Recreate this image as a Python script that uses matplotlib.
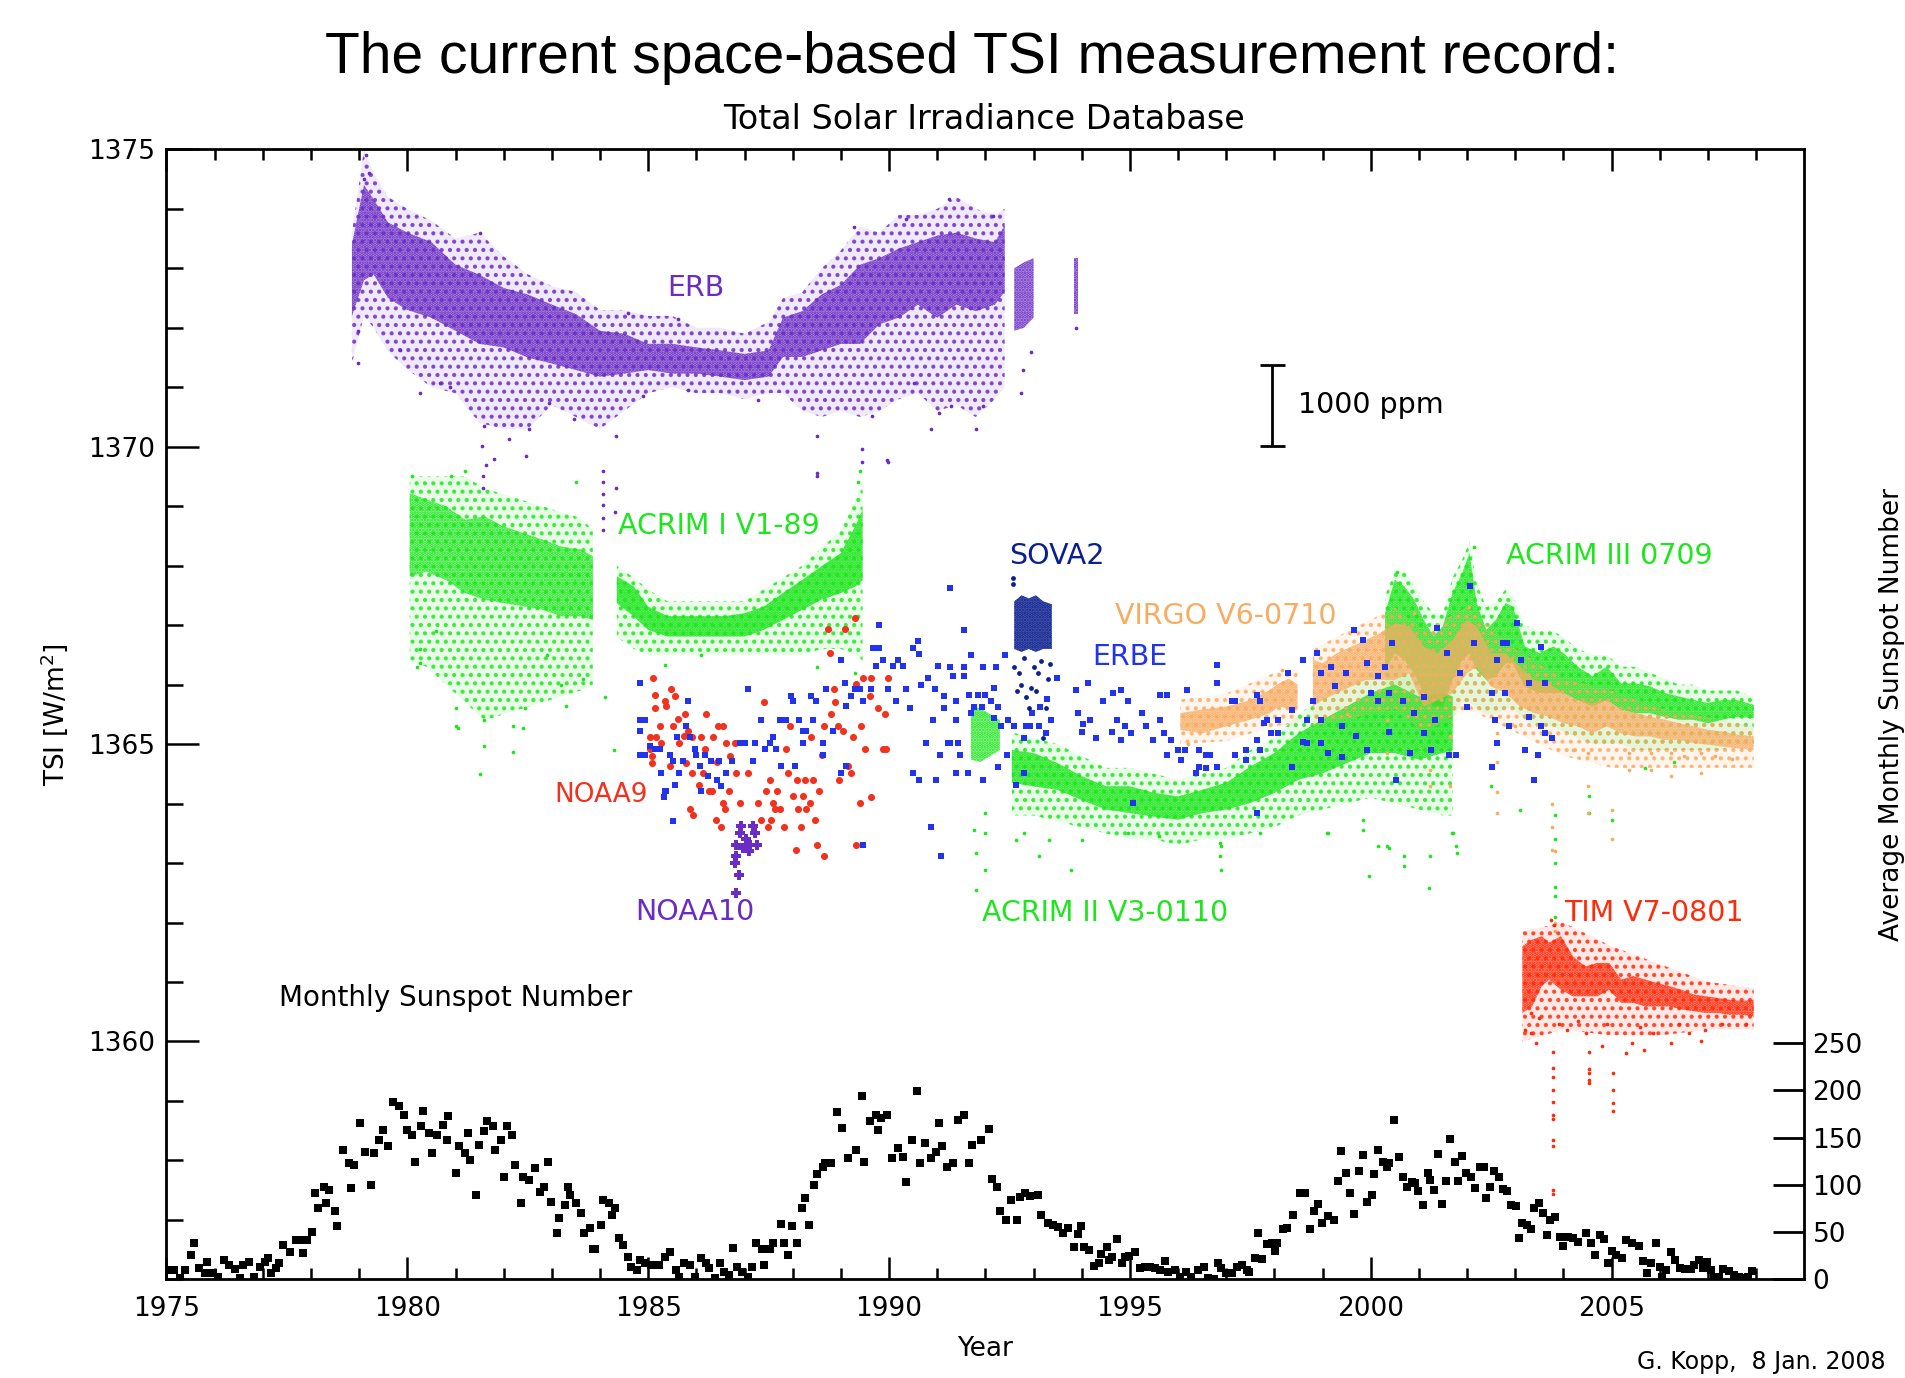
import numpy as np
import matplotlib
matplotlib.use("Agg")
import matplotlib.pyplot as plt
from matplotlib.colors import to_rgba

# ---- dense instrument records: core band (year, low, high) ----
erb_yr = [1978.85, 1979.1, 1979.3, 1979.6, 1980.0, 1980.5, 1981.0, 1981.5, 1982.0, 1982.5, 1983.0, 1983.5,
          1984.0, 1984.5, 1985.0, 1985.5, 1986.0, 1986.5, 1987.0, 1987.5, 1987.8, 1988.2, 1988.6, 1989.0,
          1989.4, 1989.8, 1990.2, 1990.6, 1991.0, 1991.4, 1991.8, 1992.2, 1992.4]
erb_lo = [1372.2, 1372.8, 1372.9, 1372.5, 1372.3, 1372.17, 1371.95, 1371.73, 1371.67, 1371.5, 1371.4, 1371.29,
          1371.18, 1371.23, 1371.29, 1371.23, 1371.23, 1371.18, 1371.12, 1371.18, 1371.51, 1371.51, 1371.62, 1371.73,
          1371.73, 1372.06, 1372.17, 1372.39, 1372.17, 1372.39, 1372.28, 1372.39, 1372.61]
erb_hi = [1373.4, 1374.4, 1374.16, 1373.77, 1373.6, 1373.44, 1373.06, 1372.89, 1372.67, 1372.56, 1372.39, 1372.23,
          1371.95, 1371.9, 1371.73, 1371.73, 1371.67, 1371.62, 1371.56, 1371.62, 1372.17, 1372.28, 1372.56, 1372.72,
          1373.06, 1373.17, 1373.33, 1373.44, 1373.55, 1373.6, 1373.5, 1373.44, 1373.72]
# outer (sparse) envelope of the ERB cloud, same years
erb_olo = [1371.4, 1372.2, 1372.0, 1371.6, 1371.3, 1371.0, 1370.9, 1370.4, 1370.3, 1370.3, 1370.7, 1370.5,
           1370.3, 1370.6, 1370.9, 1371.0, 1370.9, 1370.9, 1370.8, 1370.9, 1370.9, 1370.6, 1370.5, 1370.6,
           1370.5, 1370.6, 1370.8, 1370.9, 1370.6, 1370.7, 1370.5, 1370.8, 1371.0]
erb_ohi = [1373.6, 1375.0, 1374.6, 1374.2, 1374.0, 1373.8, 1373.5, 1373.6, 1373.2, 1372.9, 1372.7, 1372.6,
           1372.3, 1372.3, 1372.2, 1372.2, 1372.0, 1372.0, 1371.9, 1372.1, 1372.5, 1372.6, 1373.0, 1373.3,
           1373.7, 1373.6, 1373.9, 1373.9, 1374.0, 1374.2, 1374.0, 1373.9, 1374.0]
erb2_yr = [1992.6, 1992.8, 1993.0]
erb2_lo = [1371.95, 1372.0, 1372.17]
erb2_hi = [1373.0, 1373.1, 1373.17]
erb3_yr = [1993.84, 1993.92]
erb3_lo = [1372.23, 1372.23]
erb3_hi = [1373.17, 1373.17]
erb_out = [(1979.15, 1374.9), (1979.2, 1374.6), (1979.1, 1374.5), (1978.97, 1371.4), (1978.97, 1371.95),
           (1979.85, 1371.62), (1980.26, 1370.9), (1980.67, 1371.07), (1980.88, 1371.01), (1981.55, 1370.02),
           (1981.6, 1370.35), (1981.8, 1369.8), (1982.11, 1370.13), (1982.47, 1369.85), (1982.53, 1370.29),
           (1982.94, 1370.73), (1983.45, 1370.46), (1984.07, 1369.41), (1984.07, 1369.02), (1984.33, 1370.18),
           (1984.33, 1369.3), (1984.9, 1370.85), (1985.82, 1370.96), (1987.27, 1370.79), (1988.51, 1370.18),
           (1988.51, 1369.55), (1989.43, 1369.96), (1989.43, 1369.74), (1989.64, 1370.51), (1989.95, 1369.77),
           (1990.52, 1371.07), (1990.88, 1370.29), (1991.03, 1370.57), (1991.8, 1370.29), (1991.96, 1370.68),
           (1992.78, 1371.29), (1991.29, 1370.68), (1981.57, 1369.5), (1981.57, 1369.3), (1981.63, 1369.7),
           (1984.06, 1369.6), (1984.06, 1369.2), (1984.06, 1368.8), (1984.06, 1368.6), (1984.32, 1368.9),
           (1988.5, 1369.5), (1989.98, 1369.75), (1991.24, 1374.16), (1990.36, 1373.83), (1992.16, 1373.88),
           (1989.28, 1373.69), (1984.59, 1372.25), (1985.62, 1372.14), (1981.5, 1373.6), (1992.75, 1370.9),
           (1992.95, 1371.6), (1993.88, 1372.0)]

acrim1a_yr = [1980.05, 1980.4, 1980.8, 1981.2, 1981.6, 1982.0, 1982.4, 1982.8, 1983.2, 1983.6, 1983.85]
acrim1a_lo = [1367.82, 1367.9, 1367.76, 1367.54, 1367.43, 1367.37, 1367.32, 1367.26, 1367.15, 1367.15, 1367.09]
acrim1a_hi = [1369.22, 1369.11, 1369.0, 1368.77, 1368.83, 1368.66, 1368.55, 1368.44, 1368.32, 1368.27, 1368.16]
acrim1a_olo = [1366.4, 1366.3, 1366.0, 1365.7, 1365.4, 1365.5, 1365.6, 1365.7, 1365.8, 1365.9, 1366.0]
acrim1a_ohi = [1369.5, 1369.5, 1369.5, 1369.5, 1369.3, 1369.2, 1369.1, 1369.0, 1368.9, 1368.8, 1368.6]
acrim1b_yr = [1984.35, 1984.7, 1985.0, 1985.4, 1985.8, 1986.2, 1986.6, 1987.0, 1987.4, 1987.8, 1988.2, 1988.6,
              1989.0, 1989.3, 1989.45]
acrim1b_lo = [1367.37, 1367.15, 1366.92, 1366.81, 1366.81, 1366.81, 1366.81, 1366.81, 1366.92, 1367.09, 1367.26,
              1367.43, 1367.54, 1367.65, 1367.76]
acrim1b_hi = [1367.82, 1367.65, 1367.31, 1367.15, 1367.15, 1367.15, 1367.15, 1367.2, 1367.31, 1367.54, 1367.76,
              1367.99, 1368.21, 1368.66, 1368.94]
acrim1b_olo = [1366.8, 1366.6, 1366.5, 1366.5, 1366.5, 1366.5, 1366.5, 1366.5, 1366.5, 1366.5, 1366.5,
               1366.6, 1366.6, 1366.5, 1366.4]
acrim1b_ohi = [1368.0, 1367.8, 1367.6, 1367.4, 1367.4, 1367.4, 1367.4, 1367.4, 1367.6, 1367.8, 1368.0,
               1368.3, 1368.6, 1369.1, 1369.4]
acrim1_out = [(1980.26, 1366.36), (1980.26, 1366.6), (1981.0, 1365.3), (1981.0, 1365.6), (1981.6, 1364.97),
              (1981.6, 1365.4), (1982.2, 1364.86), (1982.2, 1365.3), (1982.45, 1365.6), (1983.2, 1366.0),
              (1984.1, 1365.8), (1985.35, 1366.33), (1988.5, 1366.3), (1989.3, 1366.2), (1984.3, 1364.9),
              (1981.5, 1364.49), (1980.2, 1366.3), (1981.05, 1365.27), (1982.4, 1365.27), (1983.3, 1365.64),
              (1983.65, 1366.1), (1980.1, 1369.5), (1980.9, 1369.5), (1981.2, 1369.6), (1983.5, 1369.4),
              (1989.35, 1369.4), (1989.4, 1369.6), (1980.6, 1366.9), (1982.9, 1366.5), (1986.1, 1366.5)]

acrim2a_yr = [1991.7, 1991.9, 1992.1, 1992.3]
acrim2a_lo = [1364.74, 1364.7, 1364.8, 1364.9]
acrim2a_hi = [1365.63, 1365.6, 1365.5, 1365.4]
acrim2b_yr = [1992.55, 1993.0, 1993.5, 1994.0, 1994.5, 1995.0, 1995.5, 1996.0, 1996.5, 1997.0, 1997.5, 1998.0,
              1998.5, 1999.0, 1999.5, 2000.0, 2000.5, 2001.0, 2001.5, 2001.7]
acrim2b_lo = [1364.35, 1364.29, 1364.23, 1364.06, 1363.9, 1363.84, 1363.78, 1363.73, 1363.84, 1363.9, 1364.01,
              1364.18, 1364.4, 1364.51, 1364.68, 1364.85, 1364.85, 1364.74, 1364.85, 1364.9]
acrim2b_hi = [1364.9, 1364.85, 1364.68, 1364.46, 1364.29, 1364.29, 1364.18, 1364.12, 1364.23, 1364.35, 1364.62,
              1364.85, 1365.18, 1365.41, 1365.63, 1365.86, 1366.0, 1365.8, 1365.86, 1365.8]
acrim2b_olo = [1363.8, 1363.8, 1363.7, 1363.6, 1363.5, 1363.4, 1363.4, 1363.3, 1363.4, 1363.4, 1363.5,
               1363.6, 1363.8, 1363.9, 1364.0, 1364.1, 1364.0, 1363.9, 1363.8, 1363.8]
acrim2b_ohi = [1365.2, 1365.1, 1365.0, 1364.8, 1364.6, 1364.6, 1364.5, 1364.4, 1364.5, 1364.6, 1364.9,
               1365.1, 1365.5, 1365.8, 1366.0, 1366.2, 1366.3, 1366.1, 1366.1, 1366.0]
acrim3_yr = [2000.3, 2000.5, 2000.7, 2000.9, 2001.1, 2001.3, 2001.5, 2001.7, 2001.9, 2002.05, 2002.2, 2002.4,
             2002.6, 2002.8, 2002.95, 2003.2, 2003.5, 2003.8, 2004.0, 2004.3, 2004.6, 2004.9, 2005.2, 2005.5,
             2005.8, 2006.1, 2006.4, 2006.7, 2007.0, 2007.3, 2007.6, 2007.95]
acrim3_lo = [1366.25, 1366.53, 1366.42, 1366.19, 1365.86, 1365.63, 1365.63, 1366.08, 1366.42, 1366.53, 1366.25,
             1366.08, 1366.14, 1366.36, 1366.36, 1365.97, 1365.86, 1365.86, 1365.86, 1365.74, 1365.63, 1365.74,
             1365.58, 1365.52, 1365.52, 1365.46, 1365.41, 1365.41, 1365.35, 1365.41, 1365.46, 1365.44]
acrim3_hi = [1367.2, 1367.76, 1367.65, 1367.43, 1367.09, 1366.81, 1366.98, 1367.54, 1367.87, 1368.21, 1367.37,
             1366.92, 1367.09, 1367.37, 1367.31, 1366.64, 1366.53, 1366.64, 1366.53, 1366.3, 1366.14, 1366.3,
             1366.02, 1366.02, 1365.97, 1365.86, 1365.8, 1365.74, 1365.69, 1365.74, 1365.74, 1365.66]
acrim3_olo = [1365.5, 1365.7, 1365.5, 1365.3, 1365.2, 1365.0, 1365.0, 1365.4, 1365.7, 1365.7, 1365.6,
              1365.5, 1365.5, 1365.6, 1365.6, 1365.4, 1365.3, 1365.3, 1365.2, 1365.1, 1365.0, 1365.0,
              1365.0, 1364.9, 1364.9, 1364.9, 1364.9, 1364.9, 1364.9, 1364.9, 1365.0, 1365.0]
acrim3_ohi = [1367.5, 1367.9, 1367.9, 1367.7, 1367.4, 1367.2, 1367.2, 1367.8, 1368.1, 1368.4, 1367.7,
              1367.3, 1367.4, 1367.6, 1367.5, 1367.0, 1366.9, 1366.9, 1366.8, 1366.6, 1366.5, 1366.5,
              1366.3, 1366.3, 1366.2, 1366.1, 1366.0, 1366.0, 1365.9, 1365.9, 1365.9, 1365.8]
acrim23_out = [(1991.81, 1363.17), (1991.81, 1362.55), (1992.0, 1362.89), (1992.0, 1363.84), (1991.77, 1363.56),
               (1992.63, 1363.39), (1992.81, 1363.5), (1993.11, 1363.11), (1993.33, 1363.39), (1993.77, 1362.89),
               (1994.0, 1363.39), (1994.96, 1363.5), (1996.89, 1362.89), (1996.89, 1363.28), (1997.7, 1363.5),
               (1999.11, 1363.5), (1999.85, 1363.56), (1999.96, 1362.78), (2000.33, 1363.28), (2000.7, 1362.95),
               (2001.22, 1362.58), (2001.78, 1363.28), (2001.7, 1363.5), (1996.88, 1363.34), (1996.88, 1363.11),
               (1999.1, 1363.5), (1999.83, 1363.73), (2000.16, 1363.28), (2000.37, 1363.25), (2000.7, 1363.11),
               (2001.23, 1363.11), (2001.68, 1363.5), (2001.8, 1363.17), (2004.53, 1364.12), (2004.53, 1363.84),
               (2005.0, 1363.73), (2003.82, 1362.6), (2003.82, 1362.45), (2003.82, 1362.1), (2003.82, 1363.0),
               (2003.82, 1363.4), (2003.82, 1363.8), (2003.1, 1363.9), (2002.5, 1364.3), (2005.7, 1364.6),
               (2006.3, 1364.7), (2002.15, 1368.32), (2000.55, 1367.9), (1992.0, 1363.5), (1995.6, 1363.45)]

virgo_a_yr = [1996.05, 1996.5, 1997.0, 1997.5, 1997.9, 1998.1, 1998.3, 1998.48]
virgo_a_lo = [1365.24, 1365.18, 1365.3, 1365.41, 1365.52, 1365.63, 1365.6, 1365.6]
virgo_a_hi = [1365.52, 1365.58, 1365.63, 1365.74, 1365.91, 1366.02, 1366.1, 1366.0]
virgo_ah_yr = [1996.05, 1997.0, 1998.0, 1998.48]
virgo_ah_lo = [1365.0, 1365.05, 1365.3, 1365.35]
virgo_ah_hi = [1365.75, 1365.85, 1366.2, 1366.25]
virgo_b_yr = [1998.8, 1999.0, 1999.3, 1999.6, 1999.9, 2000.2, 2000.5, 2000.8, 2001.1, 2001.4, 2001.7, 2002.0,
              2002.2, 2002.5, 2002.8, 2003.1, 2003.4, 2003.7, 2004.0, 2004.3, 2004.6, 2004.9, 2005.2, 2005.5,
              2005.8, 2006.1, 2006.4, 2006.7, 2007.0, 2007.3, 2007.6, 2007.95]
virgo_b_lo = [1365.63, 1365.74, 1365.86, 1365.97, 1366.08, 1366.08, 1366.08, 1366.19, 1365.63, 1365.74, 1365.86,
              1366.19, 1366.3, 1365.97, 1365.86, 1365.63, 1365.52, 1365.46, 1365.35, 1365.3, 1365.18, 1365.3,
              1365.18, 1365.13, 1365.13, 1365.07, 1365.07, 1365.02, 1364.99, 1364.96, 1364.93, 1364.9]
virgo_b_hi = [1366.42, 1366.36, 1366.53, 1366.64, 1366.75, 1366.87, 1367.03, 1366.98, 1366.64, 1366.53, 1366.75,
              1367.09, 1366.98, 1366.53, 1366.53, 1366.3, 1366.08, 1366.02, 1365.86, 1365.74, 1365.69, 1365.74,
              1365.58, 1365.52, 1365.46, 1365.41, 1365.35, 1365.3, 1365.24, 1365.21, 1365.16, 1365.13]
virgo_bh_yr = [1998.8, 2000.5, 2001.1, 2002.0, 2003.0, 2004.0, 2005.0, 2006.0, 2007.95]
virgo_bh_lo = [1365.3, 1365.6, 1365.2, 1365.6, 1365.2, 1364.8, 1364.6, 1364.6, 1364.6]
virgo_bh_hi = [1366.6, 1367.3, 1366.9, 1367.3, 1366.6, 1366.1, 1365.9, 1365.6, 1365.3]
virgo_out = [(2002.62, 1365.18), (2002.62, 1364.7), (2002.62, 1364.2), (2002.62, 1363.84), (2003.77, 1364.0),
             (2003.77, 1363.6), (2003.77, 1363.22), (2004.51, 1364.85), (2004.51, 1364.3), (2004.51, 1363.84),
             (2005.0, 1363.9), (2005.0, 1363.4), (2005.82, 1364.85), (2005.82, 1364.57), (2006.23, 1364.85),
             (2006.23, 1364.46), (2006.85, 1364.85), (2006.85, 1364.51), (2007.14, 1364.8), (2007.5, 1364.75),
             (2005.37, 1364.85), (2005.37, 1364.57), (2000.33, 1365.4), (2000.33, 1364.85), (2001.23, 1364.57),
             (2001.23, 1364.29), (2001.64, 1365.13), (2001.64, 1364.29), (2003.82, 1362.0), (2003.82, 1361.85),
             (2003.82, 1363.2), (2001.1, 1365.2), (1998.15, 1366.25), (1996.2, 1365.0), (1999.5, 1365.5),
             (2000.9, 1367.2), (2002.05, 1367.3), (2003.0, 1365.3), (2004.2, 1364.9), (2006.5, 1364.8)]

tim_yr = [2003.15, 2003.35, 2003.55, 2003.7, 2003.95, 2004.2, 2004.45, 2004.7, 2004.95, 2005.2, 2005.45, 2005.7,
          2005.95, 2006.2, 2006.45, 2006.7, 2006.95, 2007.2, 2007.45, 2007.7, 2007.95]
tim_lo = [1360.48, 1360.59, 1360.93, 1361.04, 1360.87, 1360.76, 1360.76, 1360.76, 1360.87, 1360.65, 1360.65,
          1360.59, 1360.59, 1360.59, 1360.54, 1360.51, 1360.48, 1360.48, 1360.45, 1360.45, 1360.42]
tim_hi = [1361.6, 1361.71, 1361.77, 1361.66, 1361.77, 1361.43, 1361.26, 1361.32, 1361.32, 1361.04, 1361.1,
          1361.04, 1360.98, 1360.93, 1360.87, 1360.79, 1360.76, 1360.73, 1360.7, 1360.68, 1360.7]
tim_h_yr = [2003.15, 2004.0, 2005.0, 2006.0, 2007.0, 2007.95]
tim_h_lo = [1360.0, 1360.2, 1360.1, 1360.1, 1360.2, 1360.2]
tim_h_hi = [1361.85, 1362.0, 1361.6, 1361.3, 1361.0, 1360.9]
tim_out = [(2003.79, 1359.83), (2003.79, 1359.55), (2003.79, 1359.41), (2003.79, 1359.19), (2003.79, 1358.99),
           (2003.79, 1358.77), (2003.79, 1358.69), (2003.79, 1358.35), (2003.79, 1358.24), (2003.79, 1357.51),
           (2003.79, 1357.43), (2004.53, 1359.83), (2004.53, 1359.53), (2004.53, 1359.47), (2004.53, 1359.36),
           (2004.53, 1359.3), (2005.03, 1359.47), (2005.03, 1359.19), (2005.03, 1358.97), (2005.03, 1358.83),
           (2003.32, 1360.14), (2003.43, 1359.97), (2003.32, 1360.48), (2004.08, 1360.2), (2004.46, 1360.14),
           (2004.81, 1359.92), (2005.29, 1359.81), (2005.43, 1359.97), (2005.67, 1359.86), (2005.86, 1360.14),
           (2006.23, 1359.97), (2006.61, 1360.14), (2006.85, 1360.0), (2006.95, 1360.2), (2003.8, 1361.95),
           (2003.2, 1360.2), (2003.5, 1360.4), (2003.9, 1360.3), (2004.3, 1360.35), (2004.9, 1360.3),
           (2005.6, 1360.25), (2006.4, 1360.3), (2007.3, 1360.3), (2007.8, 1360.3), (2003.75, 1362.05)]

sova2_yr = [1992.6, 1992.75, 1992.9, 1993.05, 1993.2, 1993.38]
sova2_lo = [1366.6, 1366.55, 1366.6, 1366.55, 1366.6, 1366.6]
sova2_hi = [1367.4, 1367.5, 1367.45, 1367.5, 1367.4, 1367.35]
sova2_out = [(1992.6, 1366.3), (1992.65, 1365.9), (1992.75, 1366.0), (1992.85, 1365.8), (1992.9, 1365.6),
             (1993.05, 1365.9), (1993.1, 1366.2), (1993.25, 1365.6), (1993.3, 1366.1), (1992.58, 1367.8),
             (1992.58, 1367.7), (1992.7, 1366.2), (1993.0, 1366.3), (1993.35, 1366.35), (1992.8, 1366.45),
             (1993.15, 1366.4), (1992.95, 1365.95), (1993.2, 1365.1)]

# ---- sparse records: individual points ----
noaa9 = [(1985.10, 1366.11), (1985.48, 1365.92), (1985.55, 1365.81), (1985.14, 1365.82), (1985.34, 1365.72),
         (1985.38, 1365.64), (1985.14, 1365.61), (1985.62, 1365.42), (1985.76, 1365.51), (1986.21, 1365.51),
         (1985.25, 1365.31), (1985.52, 1365.31), (1985.83, 1365.22), (1985.74, 1365.13), (1985.03, 1365.12),
         (1985.17, 1365.12), (1985.27, 1365.01), (1985.65, 1365.01), (1985.90, 1365.12), (1986.10, 1365.12),
         (1986.35, 1365.12), (1986.45, 1365.31), (1986.55, 1365.31), (1985.03, 1364.91), (1985.07, 1364.80),
         (1985.07, 1364.68), (1985.45, 1364.63), (1985.79, 1364.68), (1986.17, 1364.91), (1986.62, 1365.01),
         (1986.80, 1365.01), (1986.42, 1364.70), (1986.69, 1364.80), (1986.83, 1364.52), (1987.07, 1364.52),
         (1985.90, 1364.52), (1986.14, 1364.52), (1986.06, 1364.32), (1986.26, 1364.21), (1986.33, 1364.21),
         (1986.67, 1364.21), (1986.55, 1364.01), (1986.90, 1364.01), (1986.59, 1363.91), (1985.86, 1363.91),
         (1985.94, 1363.81), (1986.40, 1363.72), (1986.52, 1363.60), (1987.28, 1364.01), (1987.40, 1365.71),
         (1987.52, 1364.40), (1987.44, 1364.21), (1987.67, 1364.21), (1987.59, 1364.01), (1987.73, 1363.91),
         (1987.63, 1363.91), (1987.90, 1364.52), (1987.87, 1364.91), (1988.09, 1364.40), (1988.25, 1364.40),
         (1988.43, 1364.40), (1988.01, 1364.12), (1988.21, 1364.12), (1988.35, 1364.01), (1988.11, 1363.91),
         (1988.28, 1363.91), (1988.55, 1364.21), (1988.46, 1363.72), (1988.18, 1363.60), (1987.82, 1363.60),
         (1987.56, 1363.72), (1987.35, 1363.72), (1987.49, 1363.60), (1988.06, 1363.22), (1988.50, 1363.30),
         (1988.66, 1363.12), (1987.94, 1365.31), (1988.39, 1365.12), (1988.61, 1364.81), (1988.64, 1365.31),
         (1988.85, 1365.92), (1988.87, 1365.71), (1988.80, 1365.51), (1988.94, 1365.31), (1989.04, 1365.22),
         (1989.25, 1365.12), (1989.42, 1365.31), (1989.51, 1364.91), (1989.87, 1364.91), (1989.94, 1364.91),
         (1989.15, 1364.63), (1989.22, 1364.52), (1988.97, 1364.40), (1989.39, 1364.01), (1989.62, 1364.11),
         (1989.31, 1363.30), (1988.77, 1366.53), (1988.73, 1366.93), (1989.08, 1366.93), (1989.29, 1367.12),
         (1989.46, 1366.11), (1989.63, 1366.11), (1989.98, 1366.11), (1989.60, 1365.81), (1989.77, 1365.61),
         (1989.91, 1365.51), (1989.32, 1366.01)]

noaa10 = [(1986.93, 1363.62), (1987.18, 1363.62), (1986.90, 1363.51), (1987.21, 1363.51), (1987.04, 1363.41),
          (1986.83, 1363.31), (1987.11, 1363.31), (1987.26, 1363.30), (1986.97, 1363.26), (1987.09, 1363.20),
          (1986.82, 1363.11), (1986.80, 1363.00), (1986.88, 1362.80), (1986.82, 1362.50)]

erbe = [(1984.82, 1366.03), (1984.82, 1365.41), (1984.93, 1365.41), (1984.82, 1365.22), (1984.82, 1364.81),
        (1984.93, 1364.81), (1985.03, 1364.96), (1985.14, 1364.91), (1985.24, 1364.91), (1985.27, 1364.52),
        (1985.34, 1364.21), (1985.38, 1364.21), (1985.32, 1364.11), (1985.45, 1364.81), (1985.52, 1364.71),
        (1985.55, 1364.32), (1985.52, 1363.70), (1985.59, 1365.12), (1985.65, 1364.52), (1985.72, 1364.71),
        (1985.79, 1365.31), (1985.83, 1365.72), (1985.86, 1365.12), (1985.97, 1364.91), (1986.00, 1364.81),
        (1986.07, 1364.63), (1986.10, 1364.21), (1986.17, 1364.81), (1986.24, 1364.46), (1986.31, 1364.71),
        (1986.42, 1364.40), (1986.48, 1364.71), (1986.52, 1364.29), (1986.62, 1364.52), (1986.73, 1364.71),
        (1986.90, 1365.01), (1987.00, 1365.01), (1987.07, 1365.92), (1987.18, 1364.71), (1987.21, 1365.01),
        (1987.35, 1365.41), (1987.42, 1364.91), (1987.52, 1365.01), (1987.66, 1364.91), (1987.59, 1365.12),
        (1987.73, 1365.41), (1987.76, 1364.63), (1987.87, 1365.41), (1987.97, 1365.81), (1988.01, 1365.72),
        (1988.04, 1364.63), (1988.14, 1365.41), (1988.21, 1365.22), (1988.28, 1365.22), (1988.21, 1365.01),
        (1988.42, 1365.41), (1988.39, 1365.81), (1988.49, 1365.72), (1988.63, 1365.01), (1988.63, 1364.81),
        (1988.70, 1365.92), (1988.84, 1365.22), (1989.01, 1366.42), (1989.08, 1366.03), (1989.11, 1365.64),
        (1989.22, 1365.81), (1989.29, 1365.92), (1989.39, 1365.92), (1989.46, 1365.72), (1989.63, 1365.92),
        (1989.67, 1366.62), (1989.73, 1366.31), (1989.80, 1366.62), (1989.87, 1366.42), (1989.98, 1365.92),
        (1990.08, 1366.31), (1990.15, 1365.72), (1990.18, 1366.42), (1990.29, 1366.31), (1990.36, 1365.92),
        (1990.43, 1365.61), (1990.50, 1366.62), (1990.60, 1366.73), (1990.63, 1366.51), (1990.67, 1366.00),
        (1990.81, 1366.11), (1990.91, 1365.41), (1991.01, 1366.31), (1990.95, 1365.92), (1991.15, 1365.61),
        (1991.15, 1365.81), (1990.50, 1364.52), (1990.63, 1364.40), (1990.77, 1365.01), (1990.98, 1364.40),
        (1991.05, 1364.81), (1991.22, 1365.01), (1990.88, 1363.60), (1991.08, 1363.12), (1989.80, 1367.01),
        (1989.46, 1363.30), (1989.01, 1364.52), (1989.11, 1364.63),
        (1991.26, 1367.62), (1991.55, 1366.92), (1991.26, 1366.30), (1991.55, 1366.30), (1991.70, 1366.50),
        (1991.96, 1366.30), (1992.22, 1366.30), (1992.40, 1366.50), (1991.33, 1366.14), (1991.55, 1366.14),
        (1991.66, 1365.83), (1991.85, 1365.83), (1992.00, 1365.83), (1992.18, 1365.94), (1991.40, 1365.72),
        (1991.77, 1365.63), (1991.92, 1365.63), (1992.11, 1365.72), (1992.26, 1365.63), (1991.40, 1365.41),
        (1991.70, 1365.52), (1992.18, 1365.44), (1992.33, 1365.30), (1992.48, 1365.41), (1991.26, 1365.02),
        (1991.44, 1365.02), (1991.48, 1364.82), (1991.40, 1364.51), (1991.63, 1364.51), (1991.96, 1364.40),
        (1992.26, 1364.62), (1992.44, 1364.82), (1992.59, 1365.30), (1992.85, 1365.30), (1992.92, 1365.30),
        (1993.11, 1365.30), (1993.26, 1365.18), (1993.37, 1365.41), (1993.48, 1366.11), (1993.29, 1365.75),
        (1993.14, 1365.63), (1992.96, 1365.52), (1992.81, 1365.10), (1993.89, 1365.91), (1994.14, 1366.02),
        (1993.92, 1365.52), (1994.03, 1365.33), (1994.18, 1365.41), (1994.00, 1365.21), (1994.29, 1365.10),
        (1994.44, 1365.72), (1994.66, 1365.86), (1994.81, 1365.91), (1994.96, 1365.72), (1994.74, 1365.41),
        (1994.89, 1365.30), (1994.63, 1365.21), (1994.81, 1365.07), (1995.03, 1365.18), (1995.26, 1365.52),
        (1995.33, 1365.30), (1995.63, 1365.83), (1995.78, 1365.83), (1995.63, 1365.41), (1995.70, 1365.18),
        (1995.85, 1365.07), (1995.48, 1365.07), (1996.00, 1364.90), (1996.14, 1364.90), (1995.78, 1364.82),
        (1996.07, 1364.74), (1996.44, 1364.90), (1996.59, 1364.82), (1996.44, 1364.62), (1996.37, 1364.51),
        (1996.59, 1364.60), (1996.81, 1364.62), (1996.66, 1364.82), (1996.18, 1365.91), (1996.81, 1366.33),
        (1996.81, 1366.02), (1997.11, 1365.72), (1997.18, 1365.72), (1997.63, 1365.83), (1997.70, 1365.72),
        (1997.78, 1365.35), (1997.92, 1365.18), (1997.63, 1365.07), (1997.41, 1364.90), (1997.18, 1364.82),
        (1997.41, 1364.74), (1997.70, 1364.90), (1997.85, 1365.41), (1998.07, 1365.41), (1998.07, 1365.18),
        (1998.29, 1366.19), (1998.37, 1365.58), (1998.59, 1366.42), (1998.81, 1365.72), (1998.89, 1366.53),
        (1998.96, 1366.19), (1999.18, 1366.30), (1999.26, 1365.97), (1999.48, 1366.19), (1999.66, 1366.92),
        (1999.85, 1366.75), (1999.92, 1366.36), (2000.15, 1366.14), (2000.29, 1366.30), (2000.44, 1366.70),
        (2000.00, 1365.86), (2000.15, 1365.72), (2000.37, 1365.86), (2000.67, 1365.72), (2000.89, 1365.52),
        (2001.11, 1365.80), (2001.37, 1366.95), (2001.33, 1365.41), (2001.59, 1366.53), (2001.63, 1364.82),
        (2001.78, 1364.82), (2002.07, 1367.65), (2001.85, 1366.19), (2002.00, 1365.63), (2002.15, 1366.70),
        (2002.52, 1365.86), (2002.59, 1365.41), (2002.74, 1366.70), (2002.52, 1364.62), (1998.59, 1365.04),
        (1998.67, 1365.02), (1998.96, 1365.02), (1998.37, 1364.62), (1998.67, 1365.41), (1998.96, 1365.41),
        (1999.41, 1365.30), (1999.11, 1364.85), (1999.70, 1365.13), (2000.37, 1365.21), (2001.11, 1365.18),
        (1999.41, 1364.79), (1999.92, 1364.90), (2000.52, 1364.40), (2001.26, 1364.90), (2000.81, 1364.85),
        (1992.81, 1364.51), (1992.63, 1364.32), (1995.07, 1364.01), (1997.63, 1363.84),
        (2002.62, 1366.42), (2002.83, 1366.70), (2003.03, 1367.03), (2003.12, 1366.42), (2003.28, 1366.02),
        (2003.53, 1366.64), (2003.61, 1366.02), (2002.87, 1365.30), (2002.62, 1365.02), (2003.20, 1364.90),
        (2003.48, 1364.82), (2003.61, 1365.18), (2003.77, 1365.10), (2002.79, 1365.86), (2003.28, 1365.46),
        (2003.53, 1365.30), (2003.40, 1364.40)]

sunspots = [(1975.04, 10.0), (1975.15, 10.0), (1975.27, 1.1), (1975.38, 10.0), (1975.50, 25.8), (1975.58, 38.2),
            (1975.67, 11.7), (1975.79, 6.4), (1975.84, 18.8), (1975.96, 6.4), (1976.07, 2.9), (1976.19, 20.6),
            (1976.30, 15.3), (1976.42, 10.7), (1976.53, 1.1), (1976.59, 15.3), (1976.71, 18.8), (1976.82, 2.9),
            (1976.94, 13.5), (1977.05, 18.8), (1977.11, 22.3), (1977.17, 6.4), (1977.28, 11.7), (1977.34, 17.0),
            (1977.42, 36.4), (1977.57, 29.4), (1977.69, 41.7), (1977.80, 41.7), (1977.84, 27.6), (1977.92, 41.7),
            (1978.03, 50.6), (1978.09, 91.2), (1978.15, 75.3), (1978.26, 98.2), (1978.32, 80.6), (1978.38, 94.7),
            (1978.49, 71.8), (1978.55, 56.6), (1978.66, 137.1), (1978.78, 123.0), (1978.89, 121.2), (1978.84, 96.5),
            (1979.01, 165.3), (1979.12, 135.3), (1979.24, 100.0), (1979.30, 133.5), (1979.41, 147.7), (1979.49, 158.3),
            (1979.59, 140.6), (1979.70, 187.6), (1979.82, 183.0), (1979.93, 174.2), (1979.99, 158.3), (1980.10, 153.0),
            (1980.16, 124.7), (1980.28, 161.8), (1980.33, 177.7), (1980.45, 154.7), (1980.51, 134.2), (1980.62, 153.0),
            (1980.74, 163.6), (1980.85, 172.4), (1980.83, 147.7), (1981.02, 112.4), (1981.08, 140.6), (1981.20, 133.5),
            (1981.25, 154.7), (1981.31, 126.5), (1981.43, 89.4), (1981.48, 142.4), (1981.60, 156.5), (1981.66, 167.1),
            (1981.77, 161.8), (1981.83, 137.1), (1981.95, 147.7), (1982.06, 161.8), (1982.18, 153.0), (1982.00, 108.8),
            (1982.23, 121.2), (1982.35, 80.6), (1982.41, 108.8), (1982.52, 105.3), (1982.64, 117.7), (1982.75, 92.9),
            (1982.83, 98.2), (1982.92, 124.7), (1982.98, 82.3), (1983.10, 48.8), (1983.15, 64.7), (1983.27, 78.8),
            (1983.33, 98.2), (1983.38, 89.4), (1983.50, 80.6), (1983.61, 70.0), (1983.67, 48.8), (1983.79, 54.1),
            (1983.85, 31.8), (1983.90, 31.8), (1984.02, 57.6), (1984.07, 84.1), (1984.19, 80.6), (1984.25, 68.2),
            (1984.31, 75.3), (1984.40, 44.2), (1984.48, 36.4), (1984.59, 24.1), (1984.65, 13.5), (1984.77, 10.0),
            (1984.82, 20.6), (1984.94, 17.0), (1985.05, 15.3), (1985.23, 15.3), (1985.34, 24.1), (1985.46, 29.4),
            (1985.57, 10.0), (1985.63, 2.9), (1985.75, 17.0), (1985.86, 15.3), (1985.98, 2.9), (1986.09, 22.3),
            (1986.21, 17.0), (1986.26, 11.7), (1986.38, 1.1), (1986.49, 17.0), (1986.58, 8.2), (1986.67, 4.7),
            (1986.76, 33.6), (1986.84, 13.5), (1986.95, 8.2), (1987.07, 2.2), (1987.16, 13.5), (1987.24, 38.2),
            (1987.36, 31.8), (1987.41, 15.3), (1987.53, 31.8), (1987.59, 38.2), (1987.76, 58.3), (1987.82, 38.2),
            (1987.91, 25.8), (1987.99, 56.6), (1988.08, 38.2), (1988.20, 75.3), (1988.26, 85.9), (1988.34, 57.6),
            (1988.45, 100.0), (1988.51, 111.7), (1988.62, 119.4), (1988.68, 123.0), (1988.80, 123.0), (1988.91, 177.0),
            (1989.03, 160.0), (1989.14, 128.2), (1989.31, 137.1), (1989.43, 194.3), (1989.49, 124.7), (1989.60, 167.1),
            (1989.72, 174.2), (1989.77, 158.3), (1989.83, 170.6), (1989.95, 174.2), (1990.06, 128.2), (1990.18, 138.8),
            (1990.29, 130.0), (1990.35, 103.5), (1990.47, 147.7), (1990.58, 198.9), (1990.64, 123.0), (1990.75, 144.1),
            (1990.87, 128.2), (1990.98, 135.3), (1991.04, 165.3), (1991.10, 140.6), (1991.21, 119.4), (1991.33, 123.0),
            (1991.44, 168.9), (1991.56, 174.2), (1991.67, 123.0), (1991.73, 142.4), (1991.90, 147.7), (1992.08, 159.0),
            (1992.13, 106.0), (1992.25, 98.2), (1992.31, 71.8), (1992.42, 62.9), (1992.54, 84.1), (1992.65, 62.9),
            (1992.71, 87.6), (1992.83, 91.2), (1992.93, 88.4), (1993.09, 89.4), (1993.16, 68.2), (1993.30, 60.1),
            (1993.40, 57.6), (1993.51, 55.9), (1993.62, 48.8), (1993.72, 54.8), (1993.83, 34.0), (1993.93, 47.7),
            (1993.99, 56.6), (1994.04, 34.7), (1994.15, 31.1), (1994.25, 14.2), (1994.36, 17.0), (1994.41, 26.6),
            (1994.52, 34.7), (1994.57, 20.6), (1994.62, 24.1), (1994.73, 42.4), (1994.83, 17.0), (1994.89, 24.1),
            (1994.99, 24.8), (1995.10, 29.4), (1995.20, 12.4), (1995.31, 12.8), (1995.42, 13.5), (1995.52, 12.4),
            (1995.63, 10.0), (1995.73, 19.5), (1995.79, 8.2), (1995.94, 10.0), (1996.05, 2.2), (1996.16, 8.2),
            (1996.26, 2.2), (1996.42, 10.0), (1996.53, 12.8), (1996.63, 1.1), (1996.74, 0.4), (1996.82, 17.0),
            (1996.90, 11.7), (1997.00, 6.4), (1997.11, 6.4), (1997.22, 12.8), (1997.32, 15.3), (1997.43, 10.0),
            (1997.48, 8.2), (1997.59, 22.3), (1997.66, 49.5), (1997.74, 21.3), (1997.85, 37.5), (1997.96, 38.2),
            (1998.01, 30.1), (1998.06, 38.9), (1998.17, 53.4), (1998.27, 54.1), (1998.38, 68.2), (1998.54, 91.2),
            (1998.64, 91.2), (1998.75, 53.7), (1998.82, 72.5), (1998.91, 79.9), (1998.99, 60.1), (1999.12, 67.2),
            (1999.23, 62.9), (1999.33, 104.6), (1999.38, 136.0), (1999.49, 112.4), (1999.58, 91.9), (1999.65, 69.3),
            (1999.76, 114.8), (1999.83, 131.1), (1999.92, 82.3), (2000.02, 89.4), (2000.07, 111.7), (2000.15, 137.1),
            (2000.25, 123.7), (2000.34, 118.7), (2000.39, 123.0), (2000.48, 168.2), (2000.58, 129.0), (2000.66, 108.1),
            (2000.76, 98.2), (2000.85, 103.5), (2000.92, 101.8), (2000.99, 93.6), (2001.08, 78.8), (2001.18, 112.4),
            (2001.24, 105.3), (2001.31, 94.7), (2001.40, 132.5), (2001.48, 79.9), (2001.57, 104.6), (2001.65, 148.7),
            (2001.74, 123.7), (2001.82, 104.6), (2001.90, 130.7), (2001.98, 112.4), (2002.08, 108.8), (2002.16, 96.5),
            (2002.26, 118.4), (2002.35, 118.4), (2002.40, 86.6), (2002.48, 98.2), (2002.56, 114.8), (2002.67, 108.8),
            (2002.75, 95.4), (2002.83, 93.6), (2002.91, 78.8), (2003.01, 78.1), (2003.07, 44.2), (2003.14, 60.1),
            (2003.25, 57.6), (2003.32, 53.4), (2003.39, 75.3), (2003.49, 81.3), (2003.57, 70.7), (2003.65, 47.0),
            (2003.73, 62.9), (2003.83, 66.5), (2003.92, 45.3), (2003.99, 35.4), (2004.10, 45.3), (2004.20, 43.5),
            (2004.31, 40.0), (2004.47, 49.5), (2004.57, 38.9), (2004.66, 25.8), (2004.75, 47.0), (2004.84, 42.4),
            (2004.92, 17.0), (2005.00, 30.4), (2005.10, 25.8), (2005.21, 22.3), (2005.31, 41.7), (2005.42, 38.2),
            (2005.58, 35.4), (2005.66, 19.9), (2005.74, 7.1), (2005.82, 17.0), (2005.92, 38.9), (2006.00, 13.5),
            (2006.05, 2.2), (2006.14, 10.0), (2006.24, 29.4), (2006.32, 20.6), (2006.42, 11.7), (2006.53, 11.4),
            (2006.64, 11.4), (2006.71, 15.3), (2006.82, 20.6), (2006.90, 11.7), (2006.99, 18.1), (2007.06, 10.0),
            (2007.13, 2.2), (2007.24, 2.2), (2007.32, 11.4), (2007.43, 8.9), (2007.54, 4.7), (2007.64, 2.2),
            (2007.75, 1.1), (2007.83, 2.2), (2007.91, 9.3)]

C_ERB = '#6a2cc4'
C_ACRIM = '#1ee61e'
C_NOAA9 = '#f0321e'
C_ERBE = '#2233ee'
C_SOVA = '#0c1f8f'
C_VIRGO = '#f8ac62'
C_TIM = '#ff2a0a'

plt.rcParams['font.family'] = 'DejaVu Sans'
plt.rcParams['hatch.linewidth'] = 1.8

fig = plt.figure(figsize=(19.05, 13.78), dpi=100)
ax = fig.add_axes([0.0874, 0.0716, 0.8597, 0.82])


def cloud(yr, lo, hi, color, z, alpha=0.5, hatch='.....'):
    ax.fill_between(yr, lo, hi, facecolor=to_rgba(color, alpha), edgecolor=color,
                    hatch=hatch, linewidth=0, zorder=z)


def halo(yr, lo, hi, color, z):
    ax.fill_between(yr, lo, hi, facecolor=to_rgba(color, 0.1), edgecolor=to_rgba(color, 0.8),
                    hatch='..', linewidth=0, zorder=z)


def dots(pts, color, z, s=7, marker='o', lw=0):
    a = np.array(pts)
    ax.scatter(a[:, 0], a[:, 1], s=s, c=color, marker=marker, linewidths=lw, zorder=z)


halo(erb_yr, erb_olo, erb_ohi, C_ERB, 1)
cloud(erb_yr, erb_lo, erb_hi, C_ERB, 2, alpha=0.45)
cloud(erb2_yr, erb2_lo, erb2_hi, C_ERB, 2, alpha=0.45)
cloud(erb3_yr, erb3_lo, erb3_hi, C_ERB, 2, alpha=0.45)
dots(erb_out, C_ERB, 2)

halo(acrim1a_yr, acrim1a_olo, acrim1a_ohi, C_ACRIM, 1)
halo(acrim1b_yr, acrim1b_olo, acrim1b_ohi, C_ACRIM, 1)
cloud(acrim1a_yr, acrim1a_lo, acrim1a_hi, C_ACRIM, 2, alpha=0.35)
cloud(acrim1b_yr, acrim1b_lo, acrim1b_hi, C_ACRIM, 2, alpha=0.6)
dots(acrim1_out, C_ACRIM, 2)

halo(acrim2b_yr, acrim2b_olo, acrim2b_ohi, C_ACRIM, 1)
halo(acrim3_yr, acrim3_olo, acrim3_ohi, C_ACRIM, 1)
cloud(acrim2a_yr, acrim2a_lo, acrim2a_hi, C_ACRIM, 2, alpha=0.4)
cloud(acrim2b_yr, acrim2b_lo, acrim2b_hi, C_ACRIM, 2, alpha=0.55)
cloud(acrim3_yr, acrim3_lo, acrim3_hi, C_ACRIM, 2, alpha=0.5)
dots(acrim23_out, C_ACRIM, 2)

halo(virgo_ah_yr, virgo_ah_lo, virgo_ah_hi, C_VIRGO, 3)
halo(virgo_bh_yr, virgo_bh_lo, virgo_bh_hi, C_VIRGO, 3)
cloud(virgo_a_yr, virgo_a_lo, virgo_a_hi, C_VIRGO, 3, alpha=0.45)
cloud(virgo_b_yr, virgo_b_lo, virgo_b_hi, C_VIRGO, 3, alpha=0.4)
dots(virgo_out, C_VIRGO, 3)

halo(tim_h_yr, tim_h_lo, tim_h_hi, C_TIM, 3)
cloud(tim_yr, tim_lo, tim_hi, C_TIM, 3, alpha=0.45)
dots(tim_out, C_TIM, 3)

dots(noaa9, C_NOAA9, 4, s=26)
dots(erbe, C_ERBE, 5, s=14, marker='s')
dots(noaa10, C_ERB, 5, s=55, marker='P')

cloud(sova2_yr, sova2_lo, sova2_hi, C_SOVA, 6, alpha=0.7)
dots(sova2_out, C_SOVA, 6, s=12)

# axes, ticks
ax.set_xlim(1975, 2009)
ax.set_ylim(1356, 1375)
ax.set_xticks(np.arange(1975, 2006, 5))
ax.set_xticks(np.arange(1975, 2009, 1), minor=True)
ax.set_yticks([1360, 1365, 1370, 1375])
ax.set_yticks(np.arange(1356, 1376, 1), minor=True)
ax.tick_params(axis='x', which='major', direction='in', length=16, width=1.8, top=True, labelsize=19, pad=12)
ax.tick_params(axis='x', which='minor', direction='in', length=8, width=1.8, top=True)
ax.tick_params(axis='y', which='major', direction='in', length=24, width=1.8, right=False, labelsize=19, pad=8)
ax.tick_params(axis='y', which='minor', direction='in', length=12, width=1.8, right=False)
for sp in ax.spines.values():
    sp.set_linewidth(2)
ax.set_xlabel('Year', fontsize=19, labelpad=10)
ax.set_ylabel('TSI [W/m$^2$]', fontsize=19, labelpad=13)

ax2 = ax.twinx()
ax2.set_ylim(0, 1196)
ax2.set_yticks(np.arange(0, 251, 50))
ax2.tick_params(axis='y', direction='in', length=22, width=2, labelsize=19, pad=6)
ax2.set_ylabel('Average Monthly Sunspot Number', fontsize=19, labelpad=12)
ss = np.array(sunspots)
ax2.scatter(ss[:, 0], ss[:, 1], s=30, marker='s', c='black', linewidths=0, zorder=5)

# instrument labels
lab = dict(fontsize=20.5, ha='center', va='center', zorder=10)
ax.text(1985.99, 1372.67, 'ERB', color=C_ERB, **lab)
ax.text(1986.47, 1368.67, 'ACRIM I V1-89', color=C_ACRIM, **lab)
ax.text(1993.48, 1368.16, 'SOVA2', color=C_SOVA, **lab)
ax.text(1997.0, 1367.16, 'VIRGO V6-0710', color=C_VIRGO, **lab)
ax.text(1994.99, 1366.47, 'ERBE', color=C_ERBE, **lab)
ax.text(2004.95, 1368.16, 'ACRIM III 0709', color=C_ACRIM, **lab)
ax.text(1984.02, 1364.14, 'NOAA9', color=C_NOAA9, fontsize=19, ha='center', va='center', zorder=10)
ax.text(1985.97, 1362.18, 'NOAA10', color=C_ERB, **lab)
ax.text(1994.49, 1362.16, 'ACRIM II V3-0110', color=C_ACRIM, **lab)
ax.text(2005.88, 1362.16, 'TIM V7-0801', color=C_TIM, **lab)
ax.text(1977.34, 1360.73, 'Monthly Sunspot Number', color='black', fontsize=20, ha='left', va='center')

# 1000 ppm scale bar
ax.errorbar([1997.96], [1370.69], yerr=[0.685], color='black', capsize=9, capthick=2, elinewidth=2)
ax.text(1998.5, 1370.71, '1000 ppm', fontsize=20.5, ha='left', va='center')

fig.text(0.51, 0.958, 'The current space-based TSI measurement record:', fontsize=41,
         family=['Liberation Sans', 'DejaVu Sans'], ha='center', va='center')
fig.text(0.5165, 0.9136, 'Total Solar Irradiance Database', fontsize=24, ha='center', va='center')
fig.text(0.99, 0.003, 'G. Kopp,  8 Jan. 2008', fontsize=17, ha='right', va='bottom')

fig.savefig('out.png', dpi=100)
